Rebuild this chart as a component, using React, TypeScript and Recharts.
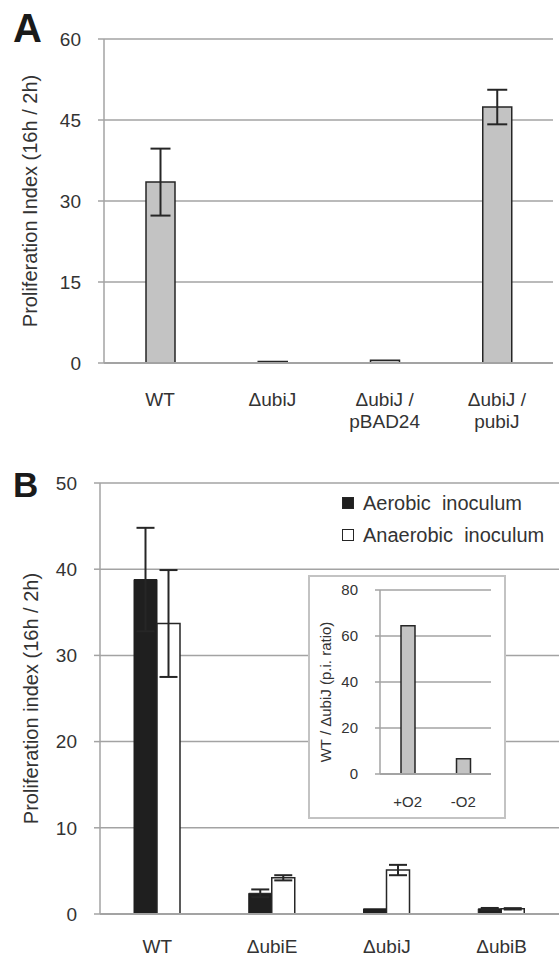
import React from 'react';
import { BarChart, Bar, XAxis, YAxis, CartesianGrid, ErrorBar, Legend, Label } from 'recharts';

const FONT = '"Liberation Sans", Arial, sans-serif';
const TEXT = '#333333';
const GRID = '#a3a3a3';
const EDGE = '#262626';

// panel A: proliferation index per strain
const strainsA = ['WT', 'ΔubiJ', 'ΔubiJ /\npBAD24', 'ΔubiJ /\npubiJ'];
const indexA = [33.5, 0.3, 0.5, 47.4];
const errorA = [6.2, null, null, 3.2];
const ticksA = [0, 15, 30, 45, 60];

// panel B: aerobic vs anaerobic inoculum
const strainsB = ['WT', 'ΔubiE', 'ΔubiJ', 'ΔubiB'];
const aerobic = [38.8, 2.4, 0.6, 0.6];
const aerobicErr = [6.0, 0.45, null, 0.1];
const anaerobic = [33.7, 4.2, 5.1, 0.6];
const anaerobicErr = [6.2, 0.3, 0.6, 0.08];
const ticksB = [0, 10, 20, 30, 40, 50];

// inset: WT / ΔubiJ ratio
const oxygen = ['+O2', '-O2'];
const ratio = [64.5, 6.6];
const ticksInset = [0, 20, 40, 60, 80];

const dataA = strainsA.map((name, i) => ({ name, value: indexA[i], err: errorA[i] }));
const dataB = strainsB.map((name, i) => ({
  name,
  aerobic: aerobic[i],
  aerobicErr: aerobicErr[i],
  anaerobic: anaerobic[i],
  anaerobicErr: anaerobicErr[i],
}));
const dataInset = oxygen.map((name, i) => ({ name, value: ratio[i] }));

function XTick(props: any) {
  const { x, y, payload, dy, lineHeight, fontSize } = props;
  const lines = String(payload.value).split('\n');
  return (
    <text x={x} y={y + dy} textAnchor="middle" fill={TEXT} fontSize={fontSize} fontFamily={FONT}>
      {lines.map((l: string, i: number) => (
        <tspan key={i} x={x} dy={i === 0 ? 0 : lineHeight}>
          {l}
        </tspan>
      ))}
    </text>
  );
}

const yTitle = (text: string, cx: number, size: number, shift = 0) => (props: any) => {
  const vb = props.viewBox;
  const cy = vb.y + vb.height / 2 + shift;
  return (
    <text
      x={cx}
      y={cy}
      transform={`rotate(-90 ${cx} ${cy})`}
      textAnchor="middle"
      dominantBaseline="central"
      fill={TEXT}
      fontSize={size}
      fontFamily={FONT}
    >
      {text}
    </text>
  );
};

const legendItems = [
  { label: 'Aerobic  inoculum', fill: '#1f1f1f' },
  { label: 'Anaerobic  inoculum', fill: '#ffffff' },
];

function LegendBox() {
  return (
    <div style={{ fontFamily: FONT, fontSize: 20, color: TEXT }}>
      {legendItems.map((it) => (
        <div key={it.label} style={{ display: 'flex', alignItems: 'center', height: 32, whiteSpace: 'pre' }}>
          <span
            style={{
              display: 'inline-block',
              width: 10,
              height: 10,
              background: it.fill,
              border: `1.5px solid ${EDGE}`,
              marginRight: 9,
            }}
          />
          {it.label}
        </div>
      ))}
    </div>
  );
}

const axisStyle = { stroke: GRID, strokeWidth: 1.5 };

export default function App() {
  return (
    <div style={{ position: 'absolute', left: 0, top: 0, width: 559, height: 959, background: '#fff', fontFamily: FONT }}>
      <div style={{ position: 'absolute', left: 13, top: 8, fontSize: 40, fontWeight: 'bold', lineHeight: 1, color: '#1a1a1a' }}>A</div>
      <div style={{ position: 'absolute', left: 0, top: 0 }}>
        <BarChart width={559} height={440} data={dataA} margin={{ top: 39, right: 6, left: 0, bottom: 17 }}>
          <CartesianGrid horizontal vertical={false} stroke={GRID} strokeWidth={1.5} />
          <XAxis
            dataKey="name"
            interval={0}
            height={60}
            tickLine={false}
            tickSize={0}
            tickMargin={0}
            axisLine={{ stroke: GRID, strokeWidth: 2 }}
            tick={(p: any) => <XTick {...p} dy={43} lineHeight={22} fontSize={19} />}
          />
          <YAxis
            width={104}
            domain={[0, 60]}
            ticks={ticksA}
            tickSize={6}
            tickMargin={17}
            axisLine={axisStyle}
            tickLine={axisStyle}
            tick={{ fill: TEXT, fontSize: 19, fontFamily: FONT }}
          >
            <Label content={yTitle('Proliferation Index (16h / 2h)', 30, 20)} />
          </YAxis>
          <Bar dataKey="value" fill="#c3c3c3" stroke={EDGE} strokeWidth={1.5} barSize={29} isAnimationActive={false}>
            <ErrorBar dataKey="err" width={10} strokeWidth={2} stroke={EDGE} direction="y" />
          </Bar>
        </BarChart>
      </div>

      <div style={{ position: 'absolute', left: 13, top: 467, fontSize: 35, fontWeight: 'bold', lineHeight: 1, color: '#1a1a1a' }}>B</div>
      <div style={{ position: 'absolute', left: 0, top: 440 }}>
        <BarChart width={559} height={519} data={dataB} margin={{ top: 43, right: 0, left: 0, bottom: 0 }} barGap={0}>
          <CartesianGrid horizontal vertical={false} stroke={GRID} strokeWidth={1.5} />
          <XAxis
            dataKey="name"
            interval={0}
            height={45}
            tickLine={false}
            tickSize={0}
            tickMargin={0}
            axisLine={{ stroke: GRID, strokeWidth: 2 }}
            tick={(p: any) => <XTick {...p} dy={39} lineHeight={22} fontSize={19} />}
          />
          <YAxis
            width={100}
            domain={[0, 50]}
            ticks={ticksB}
            tickSize={6}
            tickMargin={17}
            axisLine={axisStyle}
            tickLine={axisStyle}
            tick={{ fill: TEXT, fontSize: 19, fontFamily: FONT }}
          >
            <Label content={yTitle('Proliferation index (16h / 2h)', 31, 20)} />
          </YAxis>
          <Legend
            layout="vertical"
            align="center"
            verticalAlign="middle"
            wrapperStyle={{ left: 342, top: 47, width: 'auto' }}
            content={() => <LegendBox />}
          />
          <Bar dataKey="aerobic" name="Aerobic inoculum" fill="#1f1f1f" stroke="#1f1f1f" strokeWidth={1} barSize={23} isAnimationActive={false}>
            <ErrorBar dataKey="aerobicErr" width={9} strokeWidth={2} stroke={EDGE} direction="y" />
          </Bar>
          <Bar dataKey="anaerobic" name="Anaerobic inoculum" fill="#ffffff" stroke={EDGE} strokeWidth={1.5} barSize={23} isAnimationActive={false}>
            <ErrorBar dataKey="anaerobicErr" width={9} strokeWidth={2} stroke={EDGE} direction="y" />
          </Bar>
        </BarChart>
      </div>

      <div
        style={{
          position: 'absolute',
          left: 308,
          top: 575,
          width: 198,
          height: 244,
          boxSizing: 'border-box',
          border: '2.5px solid #c3c3c3',
          background: '#fff',
        }}
      >
        <BarChart width={193} height={239} data={dataInset} margin={{ top: 13, right: 12, left: 0, bottom: 0 }}>
          <CartesianGrid horizontal vertical={false} stroke={GRID} strokeWidth={1.5} />
          <XAxis
            dataKey="name"
            interval={0}
            height={42}
            tickLine={false}
            tickSize={0}
            tickMargin={0}
            axisLine={{ stroke: GRID, strokeWidth: 2 }}
            tick={(p: any) => <XTick {...p} dy={33} lineHeight={18} fontSize={15} />}
          />
          <YAxis
            width={70}
            domain={[0, 80]}
            ticks={ticksInset}
            tickSize={5}
            tickMargin={17}
            axisLine={axisStyle}
            tickLine={axisStyle}
            tick={{ fill: TEXT, fontSize: 15, fontFamily: FONT }}
          >
            <Label content={yTitle('WT / ΔubiJ (p.i. ratio)', 15.5, 15, 10)} />
          </YAxis>
          <Bar dataKey="value" fill="#c3c3c3" stroke={EDGE} strokeWidth={1.5} barSize={14} isAnimationActive={false} />
        </BarChart>
      </div>
    </div>
  );
}
